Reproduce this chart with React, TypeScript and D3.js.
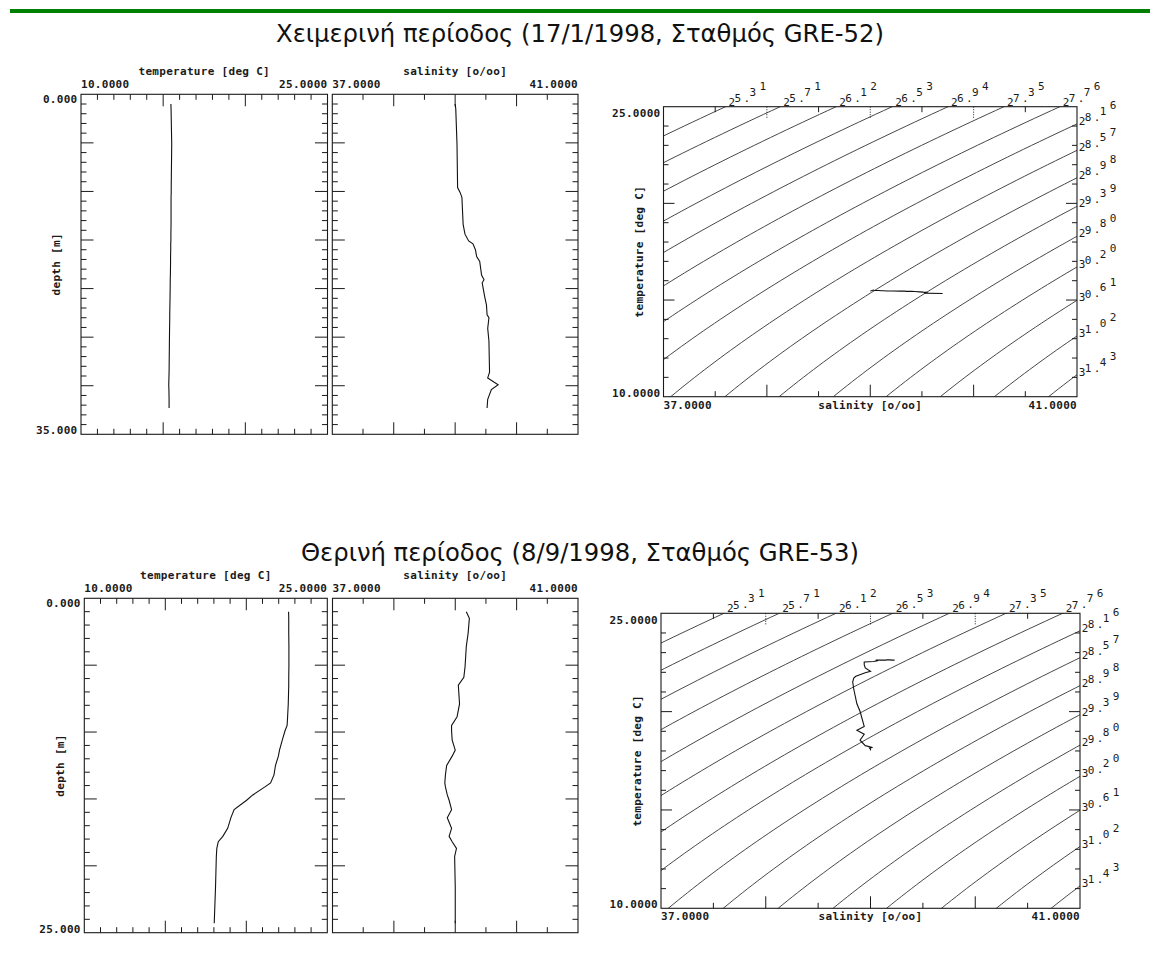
import * as d3 from 'd3'
import { useEffect, useRef } from 'react'

// station GRE-52, 17/1/1998 (winter)
const winterDepth = [1.0, 1.5, 5.1, 9.6, 10.1, 10.6, 13.4, 14.4, 15.1, 15.4, 16.0, 16.7, 17.2, 18.6, 19.1, 19.4, 20.8, 21.7, 22.7, 23.0, 24.1, 25.4, 28.6, 29.2, 29.9, 30.4, 31.4, 32.3]
const winterTemp = [15.47, 15.48, 15.52, 15.49, 15.49, 15.48, 15.48, 15.47, 15.47, 15.46, 15.46, 15.45, 15.45, 15.44, 15.43, 15.43, 15.42, 15.41, 15.4, 15.4, 15.39, 15.38, 15.36, 15.35, 15.34, 15.35, 15.36, 15.36]
const winterSal = [39.0, 39.01, 39.03, 39.04, 39.08, 39.11, 39.13, 39.16, 39.22, 39.29, 39.33, 39.35, 39.4, 39.43, 39.47, 39.44, 39.48, 39.51, 39.52, 39.55, 39.53, 39.55, 39.56, 39.53, 39.7, 39.59, 39.53, 39.52]

// station GRE-53, 8/9/1998 (summer)
const summerDepth = [1.0, 1.5, 2.6, 3.6, 5.1, 5.9, 6.5, 7.9, 8.85, 9.5, 9.9, 10.6, 11.35, 11.8, 12.5, 13.2, 13.8, 14.1, 14.7, 15.1, 15.8, 16.4, 17.2, 17.8, 18.2, 18.7, 19.3, 21.6, 24.3]
const summerTemp = [22.61, 22.62, 22.62, 22.63, 22.63, 22.62, 22.62, 22.59, 22.55, 22.52, 22.39, 22.22, 22.05, 21.98, 21.8, 21.71, 21.5, 21.15, 20.4, 20.02, 19.25, 19.05, 18.85, 18.55, 18.27, 18.18, 18.15, 18.1, 18.02]
const summerSal = [39.18, 39.23, 39.21, 39.18, 39.16, 39.14, 39.05, 39.07, 39.03, 38.94, 38.94, 38.95, 39.0, 38.95, 38.86, 38.84, 38.83, 38.84, 38.87, 38.9, 38.94, 38.87, 38.94, 38.9, 38.95, 39.02, 38.99, 39.0, 39.0]

// isopycnal levels (sigma-t) as labelled on the T-S diagrams
const sigmaLevels = [25.31, 25.71, 26.12, 26.53, 26.94, 27.35, 27.76, 28.16, 28.57, 28.98, 29.39, 29.8, 30.2, 30.61, 31.02, 31.43]
const sigmaLabels = ['25.31', '25.71', '26.12', '26.53', '26.94', '27.35', '27.76', '28.16', '28.57', '28.98', '29.39', '29.80', '30.20', '30.61', '31.02', '31.43']

const tempRange = [10, 25]
const salRange = [37, 41]
const titles = ['Χειμερινή περίοδος (17/1/1998, Σταθμός GRE-52)', 'Θερινή περίοδος (8/9/1998, Σταθμός GRE-53)']

const MONO = '"DejaVu Sans Mono", monospace'
const INK = '#1a1a1a'

// UNESCO 1981 equation of state at p = 0
function sigmaT(S: number, T: number) {
    const rw = 999.842594 + 6.793952e-2 * T - 9.09529e-3 * T * T + 1.001685e-4 * T ** 3 - 1.120083e-6 * T ** 4 + 6.536332e-9 * T ** 5
    const A = 8.24493e-1 - 4.0899e-3 * T + 7.6438e-5 * T * T - 8.2467e-7 * T ** 3 + 5.3875e-9 * T ** 4
    const B = -5.72466e-3 + 1.0227e-4 * T - 1.6546e-6 * T * T
    const C = 4.8314e-4
    return rw + A * S + B * S ** 1.5 + C * S * S - 1000
}

function solveS(level: number, T: number) {
    let lo = 28, hi = 48
    for (let i = 0; i < 50; i++) {
        const m = (lo + hi) / 2
        if (sigmaT(m, T) < level) lo = m
        else hi = m
    }
    return (lo + hi) / 2
}

function solveT(level: number, S: number) {
    let lo = 0, hi = 35
    for (let i = 0; i < 50; i++) {
        const m = (lo + hi) / 2
        if (sigmaT(S, m) > level) lo = m
        else hi = m
    }
    return (lo + hi) / 2
}

const isLong = (v: number, every: number) => Math.abs(v / every - Math.round(v / every)) < 1e-6

function txt(g: any, x: number, y: number, s: string, anchor = 'start', size = 11, weight = 'bold') {
    return g
        .append('text')
        .attr('x', x)
        .attr('y', y)
        .attr('text-anchor', anchor)
        .attr('font-family', MONO)
        .attr('font-size', size)
        .attr('font-weight', weight)
        .attr('letter-spacing', weight === 'bold' ? 0.3 : 0)
        .attr('fill', INK)
        .text(s)
}

function drawProfile(svg: any, p: any) {
    const x = d3.scaleLinear().domain(p.domain).range([p.left, p.right])
    const y = d3.scaleLinear().domain([0, p.depthMax]).range([p.top, p.bottom])
    const g = svg.append('g')

    g.append('rect')
        .attr('x', p.left)
        .attr('y', p.top)
        .attr('width', p.right - p.left)
        .attr('height', p.bottom - p.top)
        .attr('fill', 'none')
        .attr('stroke', INK)
        .attr('stroke-width', 1.1)

    const xt = d3.range(p.domain[0] + p.step, p.domain[1] - p.step / 2, p.step)
    xt.forEach((v: number) => {
        const len = isLong(v, p.longEvery) ? 12 : 5.5
        g.append('line').attr('x1', x(v)).attr('x2', x(v)).attr('y1', p.top).attr('y2', p.top + len).attr('stroke', INK)
        g.append('line').attr('x1', x(v)).attr('x2', x(v)).attr('y1', p.bottom).attr('y2', p.bottom - len).attr('stroke', INK)
    })
    d3.range(1, p.depthMax).forEach((d: number) => {
        const len = d % 5 === 0 ? 12.5 : 5.5
        g.append('line').attr('x1', p.left).attr('x2', p.left + len).attr('y1', y(d)).attr('y2', y(d)).attr('stroke', INK)
        g.append('line').attr('x1', p.right).attr('x2', p.right - len).attr('y1', y(d)).attr('y2', y(d)).attr('stroke', INK)
    })

    const f4 = d3.format('.4f')
    txt(g, (p.left + p.right) / 2, p.top - 19.3, p.title, 'middle')
    txt(g, p.left, p.top - 6, f4(p.domain[0]), 'start')
    txt(g, p.right, p.top - 6, f4(p.domain[1]), 'end')

    if (p.showDepth) {
        const f3 = d3.format('.3f')
        txt(g, p.left - 3.5, p.top + 9, f3(0), 'end')
        txt(g, p.left - 3.5, p.bottom, f3(p.depthMax), 'end')
        txt(g, 0, 0, 'depth [m]', 'middle')
            .attr('dominant-baseline', 'central')
            .attr('transform', `translate(${p.left - 24.3},${(p.top + p.bottom) / 2}) rotate(-90)`)
    }

    const line = d3
        .line<number>()
        .x((i) => x(p.values[i]))
        .y((i) => y(p.depths[i]))
    g.append('path')
        .attr('d', line(d3.range(p.depths.length)))
        .attr('fill', 'none')
        .attr('stroke', '#111')
        .attr('stroke-width', 1.1)
}

// staggered characters of the isopycnal labels
const charDx = [0, 6, 15, 21, 31]
const charDy = [0, -3.5, -4, -10, -15.5]

function drawTS(svg: any, p: any) {
    const x = d3.scaleLinear().domain(salRange).range([p.left, p.right])
    const y = d3.scaleLinear().domain(tempRange).range([p.bottom, p.top])
    const g = svg.append('g')

    const clipId = `clip-${p.id}`
    g.append('clipPath')
        .attr('id', clipId)
        .append('rect')
        .attr('x', p.left)
        .attr('y', p.top)
        .attr('width', p.right - p.left)
        .attr('height', p.bottom - p.top)

    const iso = d3
        .line<number[]>()
        .x((d) => x(d[0]))
        .y((d) => y(d[1]))
    const cg = g.append('g').attr('clip-path', `url(#${clipId})`)

    sigmaLevels.forEach((lev, k) => {
        const pts = d3.range(8, 27.01, 0.2).map((T: number) => [solveS(lev, T), T])
        cg.append('path').attr('d', iso(pts)).attr('fill', 'none').attr('stroke', '#333').attr('stroke-width', 0.9)

        const sTop = solveS(lev, tempRange[1])
        let lx: number, ly: number
        if (sTop <= salRange[1]) {
            lx = x(sTop) + 3
            ly = p.top - 1
        } else {
            lx = p.right + 1.8
            ly = y(solveT(lev, salRange[1])) + 1
        }
        const lab = sigmaLabels[k]
        lab.split('').forEach((ch, i) => {
            txt(g, lx + charDx[i], ly + charDy[i], ch, 'start', 11, 'normal')
        })
    })

    g.append('rect')
        .attr('x', p.left)
        .attr('y', p.top)
        .attr('width', p.right - p.left)
        .attr('height', p.bottom - p.top)
        .attr('fill', 'none')
        .attr('stroke', INK)
        .attr('stroke-width', 1.1)

    d3.range(tempRange[0] + 1, tempRange[1]).forEach((t: number) => {
        const len = t % 5 === 0 ? 11 : 5
        g.append('line').attr('x1', p.left).attr('x2', p.left + len).attr('y1', y(t)).attr('y2', y(t)).attr('stroke', INK)
        g.append('line').attr('x1', p.right).attr('x2', p.right - len).attr('y1', y(t)).attr('y2', y(t)).attr('stroke', INK)
    })
    d3.range(salRange[0] + 0.5, salRange[1] - 0.25, 0.5).forEach((s: number) => {
        const long = isLong(s, 1)
        const len = long ? 12 : 5.5
        g.append('line').attr('x1', x(s)).attr('x2', x(s)).attr('y1', p.bottom).attr('y2', p.bottom - len).attr('stroke', INK)
        g.append('line')
            .attr('x1', x(s))
            .attr('x2', x(s))
            .attr('y1', p.top)
            .attr('y2', p.top + len)
            .attr('stroke', INK)
            .attr('stroke-dasharray', long ? '1,1.5' : null)
    })

    const f4 = d3.format('.4f')
    txt(g, p.left - 3, p.top + 10.5, f4(tempRange[1]), 'end')
    txt(g, p.left - 3, p.bottom, f4(tempRange[0]), 'end')
    txt(g, p.left, p.bottom + 12, f4(salRange[0]), 'start')
    txt(g, p.right, p.bottom + 12, f4(salRange[1]), 'end')
    txt(g, (p.left + p.right) / 2, p.bottom + 12, 'salinity [o/oo]', 'middle')
    txt(g, 0, 0, 'temperature [deg C]', 'middle')
        .attr('dominant-baseline', 'central')
        .attr('transform', `translate(${p.left - 24},${(p.top + p.bottom) / 2}) rotate(-90)`)

    g.append('path')
        .attr('d', d3.line<number>().x((i) => x(p.sal[i])).y((i) => y(p.temp[i]))(d3.range(p.sal.length)))
        .attr('fill', 'none')
        .attr('stroke', '#111')
        .attr('stroke-width', 1.1)
}

export default function App() {
    const ref = useRef<SVGSVGElement>(null)

    useEffect(() => {
        const svg = d3.select(ref.current)
        svg.selectAll('*').remove()

        svg.append('rect').attr('x', 10).attr('y', 9).attr('width', 1140).attr('height', 4).attr('fill', '#008000')

        const titleY = [42, 561]
        const titleLen = [608, 558]
        titles.forEach((t, i) => {
            svg.append('text')
                .attr('x', 580)
                .attr('y', titleY[i])
                .attr('text-anchor', 'middle')
                .attr('font-family', '"DejaVu Sans", sans-serif')
                .attr('font-size', 25)
                .attr('textLength', titleLen[i])
                .attr('lengthAdjust', 'spacingAndGlyphs')
                .attr('fill', '#111')
                .text(t)
        })

        drawProfile(svg, {
            left: 81, right: 327.5, top: 94.3, bottom: 434.3,
            domain: tempRange, step: 1, longEvery: 5, depthMax: 35,
            values: winterTemp, depths: winterDepth, title: 'temperature [deg C]', showDepth: true,
        })
        drawProfile(svg, {
            left: 332.3, right: 578, top: 94.3, bottom: 434.3,
            domain: salRange, step: 0.5, longEvery: 1, depthMax: 35,
            values: winterSal, depths: winterDepth, title: 'salinity [o/oo]', showDepth: false,
        })
        drawTS(svg, { id: 'w', left: 663.5, right: 1077, top: 106.7, bottom: 396.7, sal: winterSal, temp: winterTemp })

        drawProfile(svg, {
            left: 84.3, right: 327.3, top: 598.3, bottom: 932.7,
            domain: tempRange, step: 1, longEvery: 5, depthMax: 25,
            values: summerTemp, depths: summerDepth, title: 'temperature [deg C]', showDepth: true,
        })
        drawProfile(svg, {
            left: 332.5, right: 578, top: 598.3, bottom: 932.7,
            domain: salRange, step: 0.5, longEvery: 1, depthMax: 25,
            values: summerSal, depths: summerDepth, title: 'salinity [o/oo]', showDepth: false,
        })
        drawTS(svg, { id: 's', left: 661, right: 1080, top: 613.3, bottom: 908.3, sal: summerSal, temp: summerTemp })
    }, [])

    return (
        <svg
            ref={ref}
            width={1160}
            height={960}
            style={{ position: 'absolute', left: 0, top: 0, background: '#fff' }}
        />
    )
}
